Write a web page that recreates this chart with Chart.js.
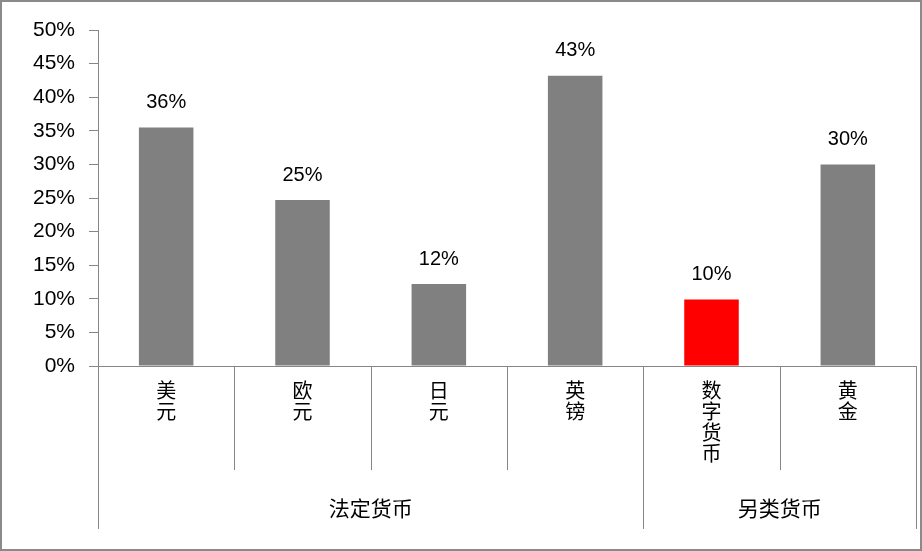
<!DOCTYPE html>
<html>
<head>
<meta charset="utf-8">
<script src="https://cdn.jsdelivr.net/npm/chart.js@4.4.0/dist/chart.umd.min.js"></script>
<style>
    html, body { margin: 0; padding: 0; background: #fff; }
    #wrap { width: 922px; height: 551px; position: relative; }
</style>
</head>
<body>
<div id="wrap"><canvas id="chart" width="922" height="551"></canvas></div>
<script>
// categories (each drawn as a vertical stack of characters)
const categories = [['美', '元'], ['欧', '元'], ['日', '元'], ['英', '镑'], ['数', '字', '货', '币'], ['黄', '金']];
const shares = [35.5, 24.7, 12.2, 43.2, 9.9, 30.0];
const barColors = ['#808080', '#808080', '#808080', '#808080', '#ff0000', '#808080'];
const groupNames = ['法定货币', '另类货币'];
const groupSizes = [4, 2];

const FONT = '"Liberation Sans", Arial, "Noto Sans CJK SC", sans-serif';
const CJK = '"Noto Sans CJK SC", "Liberation Sans", sans-serif';
const LINE = '#868686';

const extras = {
    id: 'extras',
    afterDraw(chart) {
        const { ctx, chartArea } = chart;
        const x = chart.scales.x;
        const y = chart.scales.y;
        ctx.save();

        // value labels above bars
        ctx.fillStyle = '#000';
        ctx.font = '20px ' + FONT;
        ctx.textAlign = 'center';
        ctx.textBaseline = 'middle';
        chart.getDatasetMeta(0).data.forEach((bar, i) => {
            ctx.fillText(Math.round(shares[i]) + '%', bar.x, bar.y - 25);
        });

        // category separators
        const edge = (i) => {
            if (i <= 0) return chartArea.left;
            if (i >= categories.length) return chartArea.right;
            return (x.getPixelForValue(i - 1) + x.getPixelForValue(i)) / 2;
        };
        const groupEdges = [0];
        groupSizes.forEach((n) => groupEdges.push(groupEdges[groupEdges.length - 1] + n));

        ctx.strokeStyle = LINE;
        ctx.lineWidth = 1;
        for (let i = 0; i <= categories.length; i++) {
            const px = Math.round(edge(i)) + 0.5;
            const bottom = groupEdges.includes(i) ? 529 : 470;
            ctx.beginPath();
            ctx.moveTo(px, y.bottom);
            ctx.lineTo(px, bottom);
            ctx.stroke();
        }

        // group labels
        ctx.font = '21px ' + CJK;
        for (let g = 0; g < groupNames.length; g++) {
            const cx = (edge(groupEdges[g]) + edge(groupEdges[g + 1])) / 2;
            ctx.fillText(groupNames[g], cx, 508);
        }

        // outer frame
        ctx.strokeStyle = '#8a8a8a';
        ctx.lineWidth = 3;
        ctx.strokeRect(0.5, 0.5, chart.width - 1, chart.height - 1);
        ctx.restore();
    },
};

new Chart(document.getElementById('chart'), {
    type: 'bar',
    data: {
        labels: categories,
        datasets: [
            {
                data: shares,
                backgroundColor: barColors,
                borderWidth: 0,
                barPercentage: 0.4,
                categoryPercentage: 1,
            },
        ],
    },
    options: {
        responsive: false,
        animation: false,
        devicePixelRatio: 1,
        layout: { padding: { left: 0, right: 6, top: 30, bottom: 0 } },
        plugins: {
            legend: { display: false },
            tooltip: { enabled: false },
        },
        scales: {
            x: {
                grid: { display: false },
                border: { display: true, color: LINE },
                ticks: {
                    color: '#000',
                    font: { family: CJK, size: 20, lineHeight: 1.05 },
                    padding: 6,
                    maxRotation: 0,
                    autoSkip: false,
                },
                afterFit: (scale) => { scale.height = 185; },
            },
            y: {
                min: 0,
                max: 50,
                grid: { drawOnChartArea: false, drawTicks: true, tickLength: 9, color: LINE },
                border: { display: true, color: LINE },
                ticks: {
                    stepSize: 5,
                    color: '#000',
                    font: { family: FONT, size: 21 },
                    padding: 14,
                    callback: (v) => v + '%',
                },
                afterFit: (scale) => { scale.width = 98; },
            },
        },
    },
    plugins: [extras],
});
</script>
</body>
</html>
